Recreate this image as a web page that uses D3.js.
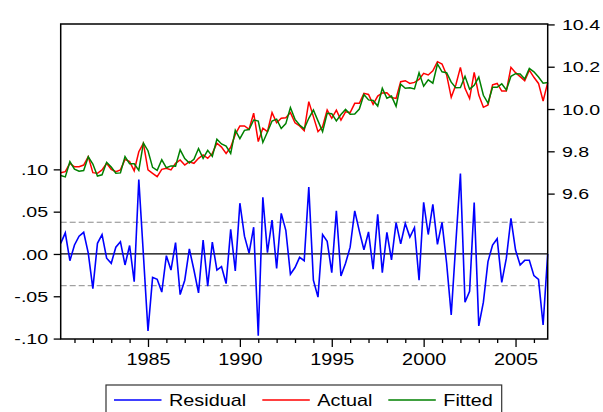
<!DOCTYPE html>
<html><head><meta charset="utf-8">
<script src="https://cdn.jsdelivr.net/npm/d3@7"></script>
<style>
html,body{margin:0;padding:0;background:#fff;}
svg{display:block;font-family:"Liberation Sans",Arial,sans-serif;}
</style></head>
<body><svg id="c" width="603" height="412"></svg>
<script>
// ---- data (quarterly, 1980Q2 .. 2006Q4) ----
const startYear = 1980.25;   // 1980Q2
const quarterStep = 0.25;
const residual = [0.0126,0.025,-0.008,0.0106,0.021,0.0256,0.001,-0.041,0.0126,0.0228,
-0.005,-0.011,0.008,0.0145,-0.013,0.010,-0.0327,0.088,-0.001,-0.091,
-0.0276,-0.030,-0.045,-0.002,-0.019,0.0134,-0.048,-0.031,0.006,-0.019,
-0.046,0.0165,-0.038,0.014,-0.019,-0.015,-0.035,0.029,-0.020,0.060,
0.021,0.001,0.0316,-0.0966,0.067,0.0016,0.040,-0.017,0.048,0.028,
-0.024,-0.016,-0.004,-0.008,0.079,-0.031,-0.051,0.023,0.015,-0.022,
0.051,-0.026,-0.011,0.008,0.051,0.027,0.005,0.026,-0.018,0.047,
-0.022,0.0256,-0.007,0.037,0.012,0.036,0.020,0.031,-0.031,0.061,
0.023,0.0587,0.0114,0.0374,-0.011,-0.072,0.0126,0.095,-0.057,-0.044,
0.0607,-0.085,-0.057,-0.009,0.0106,0.018,-0.0335,-0.005,0.042,0.0047,
-0.013,-0.0075,-0.0075,-0.0256,-0.030,-0.084,0.000];
const actual = [9.699,9.704,9.743,9.727,9.727,9.735,9.775,9.699,9.696,9.712,
9.743,9.715,9.704,9.712,9.762,9.751,9.708,9.798,9.838,9.712,
9.696,9.680,9.715,9.720,9.712,9.743,9.759,9.735,9.751,9.743,
9.767,9.783,9.767,9.790,9.838,9.820,9.790,9.819,9.880,9.920,
9.920,9.904,9.980,9.846,9.909,9.893,9.983,9.935,9.956,9.959,
9.983,9.935,9.920,9.898,10.035,9.964,9.893,9.916,9.995,9.956,
9.995,9.948,9.987,9.983,10.027,10.027,10.074,10.069,10.022,10.061,
10.076,10.077,10.054,10.050,10.129,10.134,10.121,10.126,10.140,10.169,
10.161,10.181,10.224,10.213,10.161,10.055,10.114,10.197,10.098,10.050,
10.173,10.066,10.008,10.019,10.114,10.121,10.085,10.085,10.197,10.172,
10.153,10.134,10.184,10.150,10.121,10.038,10.125];
const fitted = [9.686,9.679,9.751,9.716,9.706,9.709,9.774,9.740,9.683,9.689,
9.748,9.726,9.696,9.698,9.775,9.741,9.741,9.710,9.839,9.803,
9.724,9.710,9.760,9.722,9.731,9.730,9.807,9.766,9.745,9.762,
9.813,9.767,9.805,9.776,9.857,9.835,9.825,9.790,9.900,9.860,
9.899,9.903,9.948,9.943,9.842,9.891,9.943,9.952,9.908,9.931,
10.007,9.951,9.924,9.906,9.956,9.995,9.944,9.893,9.980,9.978,
9.944,9.974,9.998,9.975,9.976,10.000,10.069,10.043,10.040,10.014,
10.098,10.051,10.061,10.013,10.117,10.098,10.101,10.095,10.171,10.108,
10.138,10.122,10.213,10.176,10.172,10.127,10.101,10.102,10.155,10.094,
10.112,10.151,10.065,10.028,10.103,10.103,10.119,10.090,10.155,10.167,
10.166,10.142,10.192,10.176,10.151,10.122,10.125];
const residStdBand = 0.0375;
const leftTicks = [-0.1,-0.05,0,0.05,0.1];
const leftTickLabels = ["-.10","-.05",".00",".05",".10"];
const rightTicks = [9.6,9.8,10.0,10.2,10.4];
const yearTicks = d3.range(1981, 2007);
const labelYears = [1985,1990,1995,2000,2005];
const seriesNames = ["Residual","Actual","Fitted"];
const seriesColors = ["#0000ff","#ff0000","#008000"];

// ---- layout ----
const L = 60.7, R = 547.7, T = 24, B = 339;
const svg = d3.select("#c");
const times = residual.map((d,i)=> startYear + i*quarterStep);

const x = d3.scaleLinear().domain([startYear, startYear + (residual.length-1)*quarterStep]).range([L, R]);
const yL = d3.scaleLinear().domain([-0.1005, 0.2718]).range([B, T]);
const yR = d3.scaleLinear().domain([8.9125, 10.402]).range([B, T]);

// reference lines
svg.append("line").attr("x1",L).attr("x2",R).attr("y1",yL(0)).attr("y2",yL(0))
  .attr("stroke","#000").attr("stroke-width",1.3);
[residStdBand, -residStdBand].forEach(v=>{
  svg.append("line").attr("x1",L).attr("x2",R).attr("y1",yL(v)).attr("y2",yL(v))
    .attr("stroke","#8a8a8a").attr("stroke-width",1).attr("stroke-dasharray","6,3");
});

// series
const lineL = d3.line().x((d,i)=>x(times[i])).y(d=>yL(d));
const lineR = d3.line().x((d,i)=>x(times[i])).y(d=>yR(d));
svg.append("path").datum(residual).attr("d",lineL).attr("fill","none")
  .attr("stroke",seriesColors[0]).attr("stroke-width",1.6);
svg.append("path").datum(actual).attr("d",lineR).attr("fill","none")
  .attr("stroke",seriesColors[1]).attr("stroke-width",1.5);
svg.append("path").datum(fitted).attr("d",lineR).attr("fill","none")
  .attr("stroke",seriesColors[2]).attr("stroke-width",1.5);

// frame
svg.append("rect").attr("x",L).attr("y",T).attr("width",R-L).attr("height",B-T)
  .attr("fill","none").attr("stroke","#000").attr("stroke-width",1.5);

// left axis
const axL = svg.append("g").attr("transform",`translate(${L},0)`)
  .call(d3.axisLeft(yL).tickValues(leftTicks).tickSize(7)
    .tickFormat((d,i)=>leftTickLabels[i]));
axL.select(".domain").remove();
axL.selectAll("line").attr("stroke","#000").attr("stroke-width",1.3);
axL.selectAll("text").attr("x",-9).attr("dy","0.36em")
  .attr("transform","scale(1.4,1)").style("font-size","14px").attr("fill","#000");

// right axis
const axR = svg.append("g").attr("transform",`translate(${R},0)`)
  .call(d3.axisRight(yR).tickValues(rightTicks).tickSize(7).tickFormat(d3.format(".1f")));
axR.select(".domain").remove();
axR.selectAll("line").attr("stroke","#000").attr("stroke-width",1.3);
axR.selectAll("text").attr("x",10.2).attr("dy","0.36em")
  .attr("transform","scale(1.4,1)").style("font-size","14px").attr("fill","#000");

// bottom axis
const axB = svg.append("g").attr("transform",`translate(0,${B})`)
  .call(d3.axisBottom(x).tickValues(yearTicks)
    .tickSize(0).tickFormat(d=> labelYears.includes(d) ? String(d) : ""));
axB.select(".domain").remove();
axB.selectAll(".tick line").attr("y2", d=> labelYears.includes(d) ? 8 : 4)
  .attr("stroke","#000").attr("stroke-width",1.3);
axB.selectAll("text").attr("y",26).attr("dy",0)
  .attr("transform","scale(1.24,1)").style("font-size","16px").attr("fill","#000");

// legend
const lg = svg.append("g");
lg.append("rect").attr("x",106).attr("y",385).attr("width",395.7).attr("height",40)
  .attr("fill","#fff").attr("stroke","#333").attr("stroke-width",1.2);
const legX = [114, 262.3, 388.3];
seriesNames.forEach((n,i)=>{
  lg.append("line").attr("x1",legX[i]).attr("x2",legX[i]+47.5).attr("y1",400).attr("y2",400)
    .attr("stroke",seriesColors[i]).attr("stroke-width",1.3);
  lg.append("text").attr("transform",`translate(${legX[i]+55},405.5) scale(1.24,1)`)
    .style("font-size","16px").attr("fill","#000").text(n);
});
</script>
</body></html>
